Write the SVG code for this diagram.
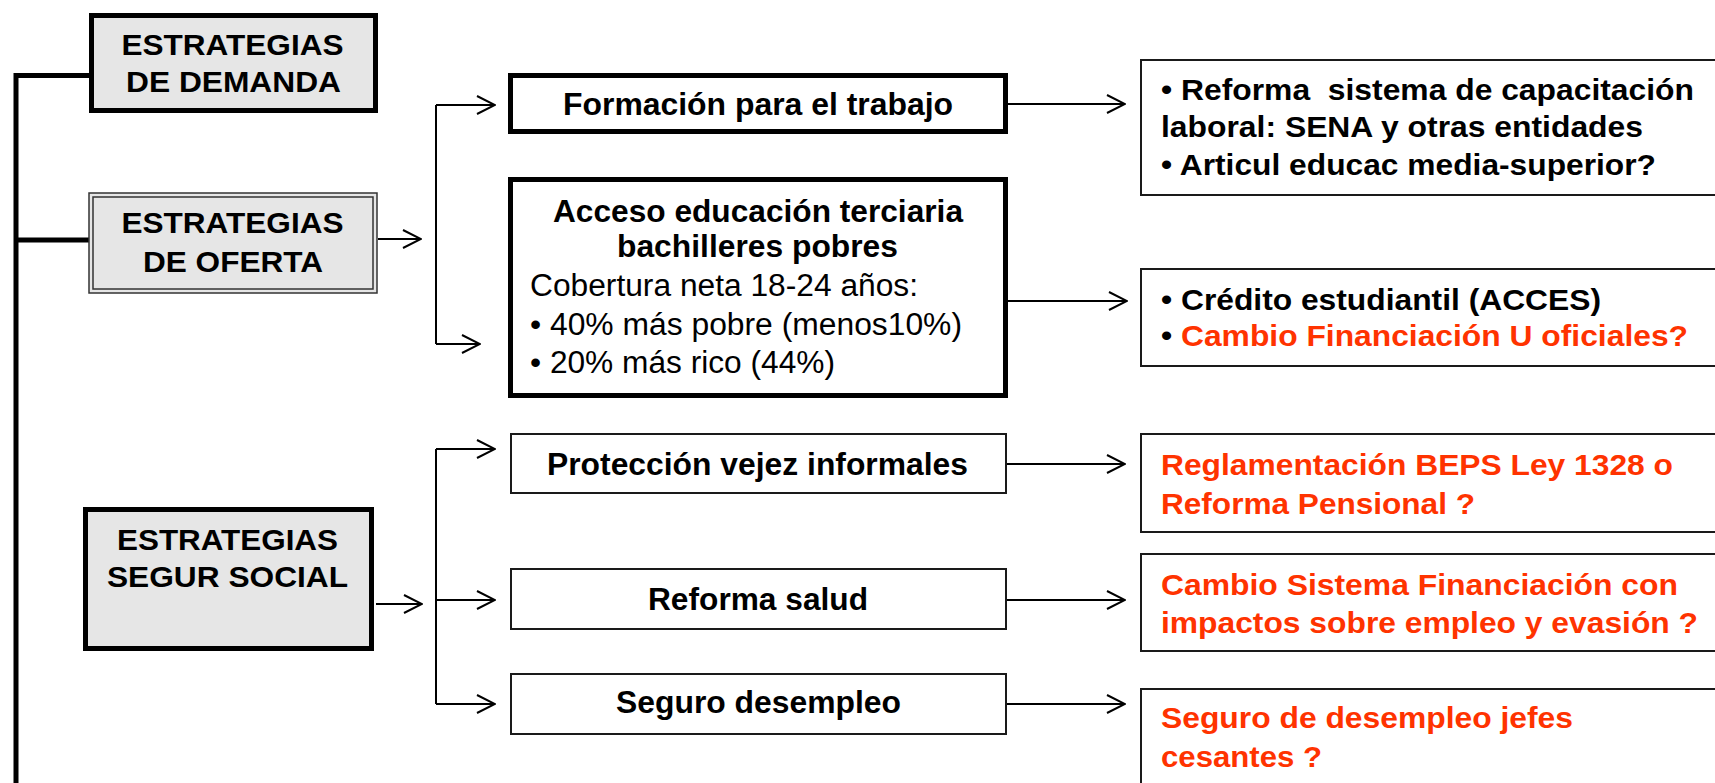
<svg xmlns="http://www.w3.org/2000/svg" width="1715" height="783" viewBox="0 0 1715 783">
<style>
text{font-family:"Liberation Sans",Arial,sans-serif;fill:#000}
.b{font-weight:bold}
.L{font-size:30px;font-weight:bold;text-anchor:middle}
.M{font-size:31px}
.R{font-size:30px;font-weight:bold}
.red{fill:#ff3300}
.gray{fill:#e6e6e6}
.con{stroke:#000;stroke-width:2;fill:none}
.thin{fill:#fff;stroke:#1a1a1a;stroke-width:2}
.thick{fill:#fff;stroke:#000;stroke-width:5}
</style>
<defs>
<marker id="ah" viewBox="0 0 20 20" refX="19" refY="10" markerWidth="20" markerHeight="20" markerUnits="userSpaceOnUse" orient="auto">
<path d="M1,1 L19,10 L1,19" fill="none" stroke="#000" stroke-width="2"/>
</marker>
</defs>

<g id="connectors">
<path d="M16,73 V783" stroke="#000" stroke-width="5" fill="none"/>
<path d="M14,75.5 H90" stroke="#000" stroke-width="5" fill="none"/>
<path d="M14,240 H90" stroke="#000" stroke-width="5" fill="none"/>
<path class="con" d="M378,239 H421" marker-end="url(#ah)"/>
<path class="con" d="M436,105 V344"/>
<path class="con" d="M436,105 H495" marker-end="url(#ah)"/>
<path class="con" d="M436,344 H480" marker-end="url(#ah)"/>
<path class="con" d="M1008,104 H1125" marker-end="url(#ah)"/>
<path class="con" d="M1006,301 H1127" marker-end="url(#ah)"/>
<path class="con" d="M376,604 H422" marker-end="url(#ah)"/>
<path class="con" d="M436,449 V704"/>
<path class="con" d="M436,449 H495" marker-end="url(#ah)"/>
<path class="con" d="M436,600 H495" marker-end="url(#ah)"/>
<path class="con" d="M436,704 H495" marker-end="url(#ah)"/>
<path class="con" d="M1006,464 H1125" marker-end="url(#ah)"/>
<path class="con" d="M1006,600 H1125" marker-end="url(#ah)"/>
<path class="con" d="M1006,704 H1125" marker-end="url(#ah)"/>
</g>

<g id="demanda">
<rect x="91.5" y="15.5" width="284" height="95" class="gray" stroke="#000" stroke-width="5"/>
<text class="L" x="232.5" y="55" textLength="222" lengthAdjust="spacingAndGlyphs">ESTRATEGIAS</text>
<text class="L" x="233.5" y="92" textLength="215" lengthAdjust="spacingAndGlyphs">DE DEMANDA</text>
</g>

<g id="oferta">
<rect x="89" y="193" width="288" height="100" class="gray" stroke="#333" stroke-width="1.5"/>
<rect x="93" y="197" width="280" height="92" class="gray" stroke="#333" stroke-width="1.5"/>
<text class="L" x="232.5" y="233" textLength="222" lengthAdjust="spacingAndGlyphs">ESTRATEGIAS</text>
<text class="L" x="233" y="272" textLength="180" lengthAdjust="spacingAndGlyphs">DE OFERTA</text>
</g>

<g id="segur">
<rect x="85.5" y="509.5" width="286" height="139" class="gray" stroke="#000" stroke-width="5"/>
<text class="L" x="227.5" y="550" textLength="221" lengthAdjust="spacingAndGlyphs">ESTRATEGIAS</text>
<text class="L" x="227.5" y="587" textLength="241" lengthAdjust="spacingAndGlyphs">SEGUR SOCIAL</text>
</g>

<g id="formacion">
<rect x="510.5" y="75.5" width="495" height="56" class="thick"/>
<text class="M b" x="563" y="115" textLength="390" lengthAdjust="spacingAndGlyphs">Formación para el trabajo</text>
</g>

<g id="acceso">
<rect x="510.5" y="179.5" width="495" height="216" class="thick"/>
<text class="M b" x="553" y="222" textLength="410" lengthAdjust="spacingAndGlyphs">Acceso educación terciaria</text>
<text class="M b" x="617" y="257" textLength="281" lengthAdjust="spacingAndGlyphs">bachilleres pobres</text>
<text class="M" x="530" y="296" textLength="388" lengthAdjust="spacingAndGlyphs">Cobertura neta 18-24 años:</text>
<text class="M" x="530" y="335" textLength="432" lengthAdjust="spacingAndGlyphs">• 40% más pobre (menos10%)</text>
<text class="M" x="530" y="373" textLength="305" lengthAdjust="spacingAndGlyphs">• 20% más rico (44%)</text>
</g>

<g id="proteccion">
<rect x="511" y="434" width="495" height="59" class="thin"/>
<text class="M b" x="547" y="475" textLength="421" lengthAdjust="spacingAndGlyphs">Protección vejez informales</text>
</g>

<g id="salud">
<rect x="511" y="569" width="495" height="60" class="thin"/>
<text class="M b" x="648" y="610" textLength="220" lengthAdjust="spacingAndGlyphs">Reforma salud</text>
</g>

<g id="desempleo">
<rect x="511" y="674" width="495" height="60" class="thin"/>
<text class="M b" x="616" y="713" textLength="285" lengthAdjust="spacingAndGlyphs">Seguro desempleo</text>
</g>

<g id="r-capacitacion">
<rect x="1141" y="60" width="600" height="135" class="thin"/>
<text class="R" x="1161" y="100" textLength="533" lengthAdjust="spacingAndGlyphs" xml:space="preserve">• Reforma  sistema de capacitación</text>
<text class="R" x="1161" y="137" textLength="482" lengthAdjust="spacingAndGlyphs">laboral: SENA y otras entidades</text>
<text class="R" x="1161" y="175" textLength="495" lengthAdjust="spacingAndGlyphs">• Articul educac media-superior?</text>
</g>

<g id="r-credito">
<rect x="1141" y="269" width="600" height="97" class="thin"/>
<text class="R" x="1161" y="310" textLength="440" lengthAdjust="spacingAndGlyphs">• Crédito estudiantil (ACCES)</text>
<text class="R" x="1161" y="346" textLength="527" lengthAdjust="spacingAndGlyphs">• <tspan class="red">Cambio Financiación U oficiales?</tspan></text>
</g>

<g id="r-beps">
<rect x="1141" y="434" width="600" height="98" class="thin"/>
<text class="R red" x="1161" y="475" textLength="512" lengthAdjust="spacingAndGlyphs">Reglamentación BEPS Ley 1328 o</text>
<text class="R red" x="1161" y="514" textLength="314" lengthAdjust="spacingAndGlyphs">Reforma Pensional ?</text>
</g>

<g id="r-financiacion">
<rect x="1141" y="554" width="600" height="97" class="thin"/>
<text class="R red" x="1161" y="595" textLength="517" lengthAdjust="spacingAndGlyphs">Cambio Sistema Financiación con</text>
<text class="R red" x="1161" y="633" textLength="537" lengthAdjust="spacingAndGlyphs">impactos sobre empleo y evasión ?</text>
</g>

<g id="r-jefes">
<rect x="1141" y="689" width="600" height="200" class="thin"/>
<text class="R red" x="1161" y="728" textLength="412" lengthAdjust="spacingAndGlyphs">Seguro de desempleo jefes</text>
<text class="R red" x="1161" y="767" textLength="161" lengthAdjust="spacingAndGlyphs">cesantes ?</text>
</g>
</svg>
